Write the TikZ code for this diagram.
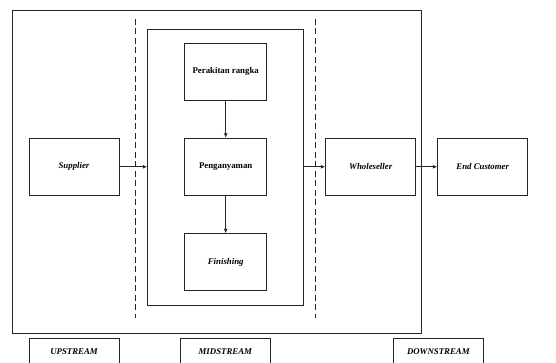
\documentclass[tikz,border=0pt]{standalone}
\usepackage{fontspec}
\setmainfont{Liberation Serif}
\usetikzlibrary{arrows.meta}
\begin{document}
\begin{tikzpicture}[x=1pt,y=-1pt,
  lbl/.style={font=\fontsize{8.8}{10}\selectfont\bfseries},
  box/.style={draw=black!85,line width=0.9pt,inner sep=0pt,lbl},
  itbox/.style={box,font=\fontsize{8.8}{10}\selectfont\bfseries\itshape},
  arr/.style={draw=black!85,line width=0.9pt,-{Latex[length=4.5pt,width=4pt]}},
  dashline/.style={draw=black!85,line width=0.9pt,dash pattern=on 6pt off 3.5pt}]
\useasboundingbox (0,0) rectangle (556,363);
\clip (0,0) rectangle (556,363);
% outer frame
\node[draw=black!85,line width=0.9pt,minimum width=409pt,minimum height=323.3pt,inner sep=0pt] (outer) at (217.2,171.7) {};
% dashed separators
\coordinate (d1t) at (135,19); \coordinate (d1b) at (135,318);
\coordinate (d2t) at (315.7,19); \coordinate (d2b) at (315.7,318);
\draw[dashline] (d1t) -- (d1b);
\draw[dashline] (d2t) -- (d2b);
% midstream container
\node[draw=black!85,line width=0.9pt,minimum width=155.6pt,minimum height=275.7pt,inner sep=0pt] (mid) at (225.5,167.2) {};
% process boxes
\node[box,minimum width=82pt,minimum height=57pt] (perakitan) at (225.7,71.8) {Perakitan rangka};
\node[box,minimum width=82pt,minimum height=57pt] (penganyaman) at (225.7,166.8) {Penganyaman};
\node[itbox,minimum width=82pt,minimum height=57pt] (finishing) at (225.7,262.3) {Finishing};
\node[itbox,minimum width=90pt,minimum height=57pt] (supplier) at (74,166.8) {Supplier};
\node[itbox,minimum width=90pt,minimum height=57pt] (wholeseller) at (370.7,166.8) {Wholeseller};
\node[itbox,minimum width=90pt,minimum height=57pt] (endc) at (482.7,166.8) {End Customer};
% arrows
\draw[arr] (perakitan) -- (penganyaman);
\draw[arr] (penganyaman) -- (finishing);
\draw[arr] (supplier.east) -- (supplier.east -| mid.west);
\draw[arr] (penganyaman.east -| mid.east) -- (wholeseller.west);
\draw[arr] (wholeseller) -- (endc);
% stream labels (clipped at bottom)
\node[itbox,minimum width=90pt,minimum height=28pt,anchor=north] (up) at (74,338.3) {};
\node[itbox,minimum width=90pt,minimum height=28pt,anchor=north] (midl) at (225.3,338.3) {};
\node[itbox,minimum width=90pt,minimum height=28pt,anchor=north] (down) at (438.3,338.3) {};
\node[lbl,font=\fontsize{8.8}{10}\selectfont\bfseries\itshape,inner sep=0pt] (upt) at (74,351.7) {UPSTREAM};
\node[lbl,font=\fontsize{8.8}{10}\selectfont\bfseries\itshape,inner sep=0pt] (midt) at (225.3,351.7) {MIDSTREAM};
\node[lbl,font=\fontsize{8.8}{10}\selectfont\bfseries\itshape,inner sep=0pt] (downt) at (438.3,351.7) {DOWNSTREAM};
\end{tikzpicture}
\end{document}
